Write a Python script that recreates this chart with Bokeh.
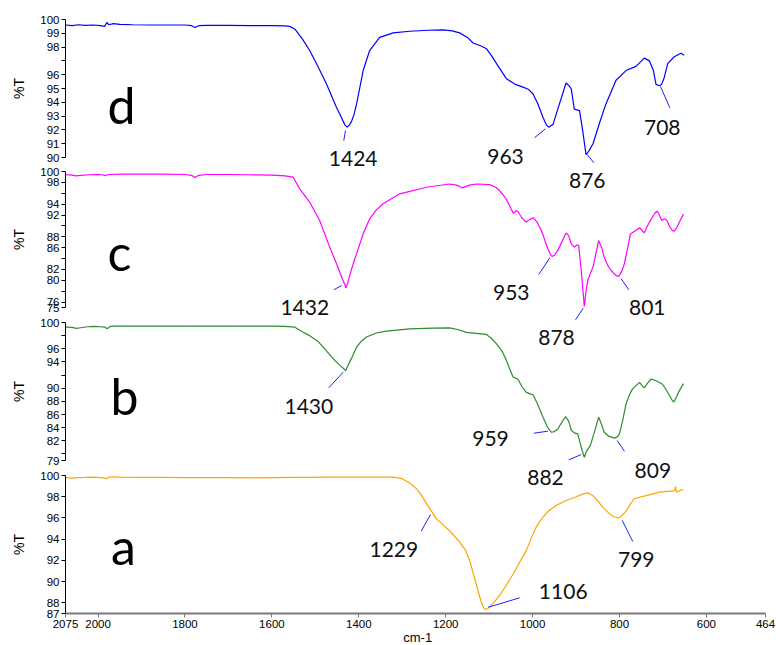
import numpy as np
from bokeh.plotting import figure
from bokeh.models import Range1d, LinearAxis, FixedTicker, Label
from bokeh.core.properties import value
from bokeh.embed import file_html
from bokeh.resources import INLINE

# ---------------- data ----------------
wn_d = [2075, 2060, 2045, 2030, 2010, 1995, 1985, 1980, 1975, 1965, 1950, 1920, 1880, 1840, 1800,
        1785, 1777, 1768, 1750, 1700, 1650, 1600, 1570, 1559, 1547, 1530, 1513, 1494, 1474, 1451,
        1440, 1432, 1427, 1422, 1417, 1411, 1405, 1398, 1390, 1375, 1352, 1321, 1283, 1240, 1206,
        1185, 1168, 1150, 1137, 1120, 1107, 1095, 1083, 1060, 1040, 1022, 1010, 999, 988, 976,
        968, 963, 958, 953, 938, 923, 916, 911, 904, 892, 885, 877, 870, 861, 846, 831, 808, 785,
        762, 743, 731, 722, 716, 708, 703, 697, 689, 674, 662, 658, 651]
t_d = [99.6, 99.55, 99.62, 99.58, 99.6, 99.55, 99.5, 99.78, 99.62, 99.7, 99.65, 99.62, 99.6, 99.6, 99.6,
       99.55, 99.42, 99.55, 99.58, 99.57, 99.56, 99.55, 99.54, 99.5, 99.3, 98.6, 97.75, 96.6, 95.3, 93.6,
       92.9, 92.35, 92.2, 92.35, 92.6, 93.1, 93.9, 95.0, 96.3, 97.75, 98.7, 99.03, 99.15, 99.22, 99.25,
       99.18, 99.03, 98.7, 98.3, 98.1, 97.9, 97.4, 96.8, 95.7, 95.3, 95.1, 94.95, 94.6, 93.9, 92.9,
       92.35, 92.2, 92.3, 92.4, 93.9, 95.4, 95.2, 94.97, 93.5, 93.4, 92.0, 90.2, 90.5, 91.0, 92.5, 93.9,
       95.6, 96.3, 96.6, 97.2, 97.0, 96.3, 95.3, 95.2, 95.3, 95.8, 96.8, 97.3, 97.5, 97.56, 97.4]

wn_c = [2075, 2060, 2050, 2040, 2020, 2000, 1990, 1984, 1975, 1950, 1900, 1850, 1800, 1785, 1777, 1768,
        1750, 1700, 1650, 1600, 1570, 1551, 1536, 1513, 1490, 1467, 1451, 1438, 1432, 1430, 1425, 1421,
        1413, 1405, 1390, 1375, 1360, 1344, 1306, 1244, 1191, 1175, 1162, 1145, 1129, 1099, 1085, 1076,
        1061, 1050, 1044, 1038, 1034, 1025, 1015, 1006, 998, 990, 980, 965, 958, 955, 950, 942, 930, 923,
        917, 911, 904, 898, 894, 888, 884, 881, 877, 873, 866, 861, 848, 841, 835, 826, 819, 810, 802,
        795, 789, 781, 775, 762, 754, 748, 743, 737, 731, 720, 714, 710, 708, 703, 697, 691, 684, 679,
        675, 668, 662, 653]
t_c = [99.4, 99.35, 99.2, 99.3, 99.4, 99.45, 99.4, 99.25, 99.45, 99.5, 99.5, 99.5, 99.45, 99.3, 98.9, 99.3,
       99.45, 99.45, 99.4, 99.35, 99.2, 98.95, 96.8, 94.36, 91.0, 86.1, 83.0, 80.3, 79.2, 78.6, 79.6, 80.9,
       83.0, 84.9, 88.5, 91.3, 92.9, 94.06, 95.9, 97.1, 97.7, 97.5, 97.0, 97.5, 97.7, 97.6, 97.1, 96.5,
       95.0, 93.2, 92.3, 92.8, 92.7, 91.5, 90.7, 91.2, 91.5, 90.7, 89.2, 85.8, 84.6, 84.4, 84.6, 85.5, 87.5,
       88.7, 88.2, 86.7, 86.1, 86.5, 86.4, 81.8, 78.0, 75.2, 78.0, 80.0, 81.5, 82.4, 87.3, 86.0, 84.2, 82.6,
       81.8, 81.0, 80.7, 81.6, 83.0, 86.0, 88.5, 89.2, 89.65, 89.2, 88.7, 89.8, 90.7, 92.2, 92.7, 92.4,
       91.9, 91.0, 91.3, 91.0, 89.8, 89.2, 89.0, 89.7, 90.7, 92.2]

wn_b = [2075, 2060, 2050, 2040, 2025, 2010, 1995, 1985, 1979, 1972, 1960, 1920, 1880, 1840, 1800, 1760,
        1720, 1680, 1640, 1600, 1570, 1547, 1530, 1513, 1495, 1482, 1468, 1455, 1442, 1430, 1424, 1417,
        1411, 1405, 1395, 1382, 1360, 1336, 1283, 1230, 1191, 1170, 1153, 1130, 1107, 1095, 1083, 1070,
        1060, 1052, 1045, 1038, 1034, 1025, 1015, 1005, 999, 990, 976, 965, 957, 950, 942, 933, 924, 917,
        911, 904, 896, 888, 881, 876, 867, 857, 848, 842, 835, 825, 812, 805, 800, 792, 785, 777, 770, 760,
        754, 748, 743, 735, 727, 715, 701, 693, 685, 679, 675, 670, 664, 653]
t_b = [99.3, 99.25, 99.1, 99.2, 99.35, 99.4, 99.35, 99.3, 99.05, 99.4, 99.45, 99.45, 99.45, 99.45, 99.44,
       99.45, 99.45, 99.44, 99.44, 99.44, 99.4, 99.29, 98.6, 98.0, 97.2, 96.25, 95.2, 94.2, 93.4, 92.7, 93.6,
       94.5, 95.4, 96.25, 97.1, 97.8, 98.4, 98.7, 99.04, 99.15, 99.19, 98.9, 98.5, 98.35, 98.2, 97.6, 96.75,
       95.6, 94.2, 92.8, 91.7, 91.5, 91.4, 90.3, 89.4, 89.1, 89.0, 87.8, 85.6, 84.0, 83.3, 83.4, 83.8, 84.8,
       85.7, 85.0, 83.6, 83.2, 83.05, 81.0, 79.5, 80.4, 81.3, 83.5, 85.6, 84.6, 83.3, 82.7, 82.4, 82.6,
       83.05, 85.3, 87.6, 89.0, 89.9, 90.5, 90.9, 90.4, 90.06, 90.8, 91.4, 91.1, 90.6, 89.8, 88.9, 88.2,
       87.9, 88.5, 89.4, 90.7]

wn_a = [2075, 2060, 2045, 2030, 2010, 1995, 1985, 1980, 1975, 1965, 1950, 1900, 1850, 1800, 1750, 1700,
        1628, 1550, 1450, 1380, 1321, 1300, 1290, 1280, 1267, 1255, 1244, 1232, 1221, 1205, 1191, 1180,
        1168, 1155, 1145, 1138, 1130, 1124, 1118, 1112, 1108, 1104, 1099, 1088, 1076, 1060, 1045, 1030,
        1015, 1003, 992, 978, 962, 945, 923, 900, 885, 873, 861, 850, 838, 826, 815, 803, 795, 784, 775,
        766, 750, 739, 720, 708, 690, 678, 673, 671, 669, 668, 660, 653]
t_a = [99.8, 99.75, 99.8, 99.82, 99.85, 99.8, 99.75, 99.7, 99.85, 99.88, 99.85, 99.82, 99.82, 99.8, 99.8,
       99.8, 99.78, 99.82, 99.84, 99.85, 99.84, 99.7, 99.46, 99.2, 98.74, 98.1, 97.33, 96.6, 95.92, 95.3,
       94.8, 94.3, 93.72, 93.0, 92.0, 91.0, 89.8, 88.9, 88.06, 87.5, 87.38, 87.45, 87.6, 88.1, 88.7, 89.7,
       90.7, 91.8, 92.9, 94.1, 95.13, 96.0, 96.7, 97.2, 97.65, 98.0, 98.25, 98.37, 98.1, 97.6, 97.0, 96.5,
       96.14, 96.0, 96.2, 96.7, 97.3, 97.8, 98.0, 98.1, 98.3, 98.43, 98.5, 98.52, 98.6, 98.96, 98.5, 98.43,
       98.6, 98.68]

# tick values
x_ticks = [2075, 2000, 1800, 1600, 1400, 1200, 1000, 800, 600, 464]
ticks_d = [100, 99, 98, 96, 95, 94, 93, 92, 91, 90]
minor_d = [97]
ticks_c = [100, 98, 94, 92, 88, 86, 82, 80, 76, 75]
minor_c = [96, 90, 84, 78]
ticks_b = [100, 96, 94, 90, 88, 86, 84, 82, 79]
minor_b = [98, 92, 80]
ticks_a = [100, 98, 96, 94, 92, 90, 88, 87]
minor_a = []

# peak labels: text, leader line (wn0, T0, wn1, T1), label position (wn, T)
peaks_d = ["1424", "963", "876", "708"]
lead_d = [(1430.6, 91.96, 1434.5, 91.23), (970.3, 92.08, 995.6, 91.43),
          (874.3, 90.22, 859.1, 89.62), (705.6, 95.14, 684.2, 93.6)]
pos_d = [(1412.9, 89.93), (1062.3, 90.07), (874.3, 88.33), (701.7, 92.2)]

peaks_c = ["1432", "953", "878", "801"]
lead_c = [(1439.8, 79.04, 1457.5, 78.25), (960.4, 84.14, 985.7, 81.07),
          (883.5, 74.87, 901.2, 72.74), (796.1, 80.28, 778.6, 78.25)]
pos_c = [(1524.3, 75.06), (1049.2, 77.7), (945.0, 69.43), (736.2, 75.06)]

peaks_b = ["1430", "959", "882", "809"]
lead_b = [(1435.9, 92.44, 1469.0, 90.06), (965.0, 83.46, 997.2, 83.15),
          (888.1, 79.91, 916.7, 79.1), (805.3, 82.04, 788.5, 80.41)]
pos_b = [(1515.0, 87.26), (1096.9, 82.3), (970.3, 76.37), (723.3, 77.48)]

peaks_a = ["1229", "1106", "799"]
lead_a = [(1235.0, 96.33, 1256.4, 94.75), (1102.2, 87.59, 1029.4, 88.48),
          (793.8, 95.76, 769.4, 93.78)]
pos_a = [(1319.4, 93.0), (929.5, 89.1), (761.5, 92.06)]

letters = ["d", "c", "b", "a"]
letter_pos = [(1946, 93.77), (1950.7, 85.17), (1939.2, 88.74), (1941.5, 93.4)]

x_title = "cm-1"
y_title = "%T"

# ---------------- layout ----------------
W, H = 776, 645
PLOT_L, PLOT_R = 65, 765          # pixel columns of 2075 and 464
WN_HI, WN_LO = 2075, 464
k = (PLOT_R - PLOT_L) / (WN_HI - WN_LO)
x_start = WN_HI + PLOT_L / k
x_end = WN_LO - (W - PLOT_R) / k

# panel pixel rows (top, bottom) of the value range of each panel
rows = [(19, 157), (171, 307), (322, 460), (475, 613)]
vranges = [(90, 100), (75, 100), (79, 100), (87, 100)]
colors = ["#0000FF", "#FF00FF", "#2E8B2E", "#FFA500"]

p = figure(width=W, height=H, x_range=Range1d(x_start, x_end), y_range=Range1d(0, 1),
           output_backend="svg", toolbar_location=None,
           x_axis_location=None, y_axis_location=None,
           min_border=0, min_border_left=0, min_border_right=0,
           min_border_top=0, min_border_bottom=0)
p.outline_line_color = None
p.grid.visible = False
p.background_fill_color = "white"
p.border_fill_color = "white"

names = ["d", "c", "b", "a"]
series = [(wn_d, t_d), (wn_c, t_c), (wn_b, t_b), (wn_a, t_a)]
ticksets = [(ticks_d, minor_d), (ticks_c, minor_c), (ticks_b, minor_b), (ticks_a, minor_a)]
peaksets = [(peaks_d, lead_d, pos_d), (peaks_c, lead_c, pos_c), (peaks_b, lead_b, pos_b),
            (peaks_a, lead_a, pos_a)]

for i, name in enumerate(names):
    lo, hi = vranges[i]
    t, b = rows[i]
    s = (hi - lo) / (b - t)
    rname = "r_" + name
    p.extra_y_ranges[rname] = Range1d(lo - (H - b) * s, hi + t * s)

    wn, tv = series[i]
    p.line(wn, tv, line_color=colors[i], line_width=1.2, y_range_name=rname)

    labs, leads, poss = peaksets[i]
    p.segment(x0=[l[0] for l in leads], y0=[l[1] for l in leads],
              x1=[l[2] for l in leads], y1=[l[3] for l in leads],
              line_color="#1f1fff", line_width=1, y_range_name=rname)
    p.text(x=[q[0] for q in poss], y=[q[1] for q in poss], text=labs,
           text_font=value("Lato"), text_font_size="21px", text_color="#111111",
           text_align="center", text_baseline="middle", y_range_name=rname)

    p.text(x=[letter_pos[i][0]], y=[letter_pos[i][1]], text=[letters[i]],
           text_font=value("Lato"), text_font_size="50px", text_color="black",
           text_align="center", text_baseline="alphabetic", y_range_name=rname)

    tk, mn = ticksets[i]
    ax = LinearAxis(y_range_name=rname, fixed_location=WN_HI, bounds=(lo, hi),
                    ticker=FixedTicker(ticks=tk, minor_ticks=mn))
    ax.axis_line_color = "black"
    ax.axis_line_width = 1
    ax.major_tick_in = 0
    ax.major_tick_out = 4
    ax.minor_tick_in = 0
    ax.minor_tick_out = 4
    ax.major_tick_line_color = "black"
    ax.minor_tick_line_color = "black"
    ax.major_label_text_font = "Liberation Sans"
    ax.major_label_text_font_size = "11.5px"
    ax.major_label_text_color = "black"
    ax.major_label_standoff = 2
    p.add_layout(ax, "left")

    p.add_layout(Label(x=WN_HI, y=(lo + hi) / 2, y_range_name=rname, x_offset=-47,
                       text=y_title, angle=np.pi / 2, text_align="center", text_baseline="middle",
                       text_font="Liberation Sans", text_font_size="14px", text_color="black"))

# bottom wavenumber axis, at the foot of panel a
xa = LinearAxis(y_range_name="r_a", fixed_location=vranges[3][0], bounds=(WN_LO, WN_HI),
                ticker=FixedTicker(ticks=x_ticks, minor_ticks=[]))
xa.axis_line_color = "#7a7a7a"
xa.axis_line_width = 2
xa.major_tick_line_color = "#7a7a7a"
xa.major_tick_in = 0
xa.major_tick_out = 4
xa.major_label_text_font = "Liberation Sans"
xa.major_label_text_font_size = "11.5px"
xa.major_label_text_color = "black"
xa.major_label_standoff = 2
p.add_layout(xa, "below")

p.add_layout(Label(x=(WN_HI + WN_LO) / 2 - 5, y=vranges[3][0], y_range_name="r_a", y_offset=-24,
                   text=x_title, text_align="center", text_baseline="middle",
                   text_font="Liberation Sans", text_font_size="13px", text_color="black"))

open("out.html", "w").write(file_html(p, INLINE))
